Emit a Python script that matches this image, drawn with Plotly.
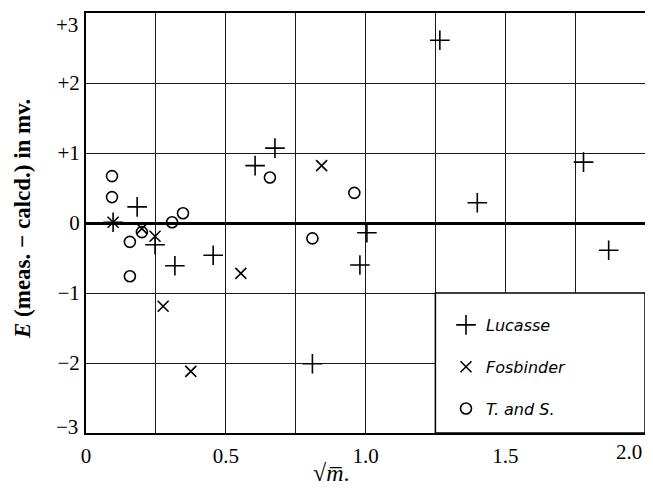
import plotly.graph_objects as go

# ---- data ----
lucasse_x = [0.097, 0.183, 0.247, 0.318, 0.455, 0.605, 0.676, 0.81, 0.98, 1.005, 1.266, 1.40, 1.78, 1.87]
lucasse_y = [0.01, 0.23, -0.31, -0.61, -0.46, 0.82, 1.07, -2.01, -0.60, -0.14, 2.61, 0.29, 0.87, -0.39]

fos_x = [0.097, 0.20, 0.247, 0.276, 0.375, 0.554, 0.843]
fos_y = [0.01, -0.08, -0.19, -1.19, -2.12, -0.72, 0.82]

ts_x = [0.093, 0.093, 0.157, 0.157, 0.20, 0.308, 0.347, 0.658, 0.81, 0.96]
ts_y = [0.67, 0.37, -0.27, -0.76, -0.13, 0.01, 0.14, 0.65, -0.22, 0.43]

x_tickvals = [0, 0.25, 0.5, 0.75, 1.0, 1.25, 1.5, 1.75, 2.0]
x_ticktext = ["0", "", "0.5", "", "1.0", "", "1.5", "", "2.0"]
y_tickvals = [-3, -2, -1, 0, 1, 2, 3]
y_ticktext = ["\u22123", "\u22122", "\u22121", "0", "+1", "+2", "+3"]

legend_names = ["Lucasse", "Fosbinder", "T. and S."]

# page body has an 8px margin: figure is shrunk so the plot lands where the reference has it
W, H = 645, 481
L, T, R, B = 78, 5, 8, 56
PW, PH = W - L - R, H - T - B


def px_x(sx):  # screen x -> paper x
    return (sx - 8 - L) / PW


def px_y(sy):  # screen y -> paper y
    return (H - B - (sy - 8)) / PH


fig = go.Figure()

fig.add_trace(go.Scatter(
    x=lucasse_x, y=lucasse_y, mode="markers", name=legend_names[0], legendgroup="a",
    marker=dict(symbol="cross-thin", size=14, color="black", line=dict(color="black", width=1.6)),
))
fig.add_trace(go.Scatter(
    x=fos_x, y=fos_y, mode="markers", name=legend_names[1], legendgroup="b",
    marker=dict(symbol="x-thin", size=11, color="black", line=dict(color="black", width=1.6)),
))
fig.add_trace(go.Scatter(
    x=ts_x, y=ts_y, mode="markers", name=legend_names[2], legendgroup="c",
    marker=dict(symbol="circle-open", size=11, color="black", line=dict(color="black", width=1.6)),
))

# white legend box that interrupts the grid
fig.add_shape(type="rect", xref="x", yref="y", x0=1.25, x1=2.0, y0=-3, y1=-1,
              fillcolor="white", line=dict(color="black", width=1.5), layer="between")

tick_font = dict(family="Liberation Serif", size=21, color="black")
axis_common = dict(
    showline=True, mirror=True, linewidth=2, linecolor="black",
    showgrid=True, gridcolor="#1a1a1a", gridwidth=1.1,
    ticks="", tickfont=tick_font, automargin=False, ticklabeloverflow="allow",
)

# end labels that the reference pulls inside the frame are drawn as annotations
x_axis_text = [t if v != 2.0 else "" for v, t in zip(x_tickvals, x_ticktext)]
y_axis_text = [t if v not in (-3, 3) else "" for v, t in zip(y_tickvals, y_ticktext)]

fig.update_xaxes(range=[0, 2.0], tickvals=x_tickvals, ticktext=x_axis_text,
                 zeroline=False, ticklabelstandoff=3, **axis_common)
fig.update_yaxes(range=[-3, 3], tickvals=y_tickvals, ticktext=y_axis_text,
                 zeroline=True, zerolinecolor="black", zerolinewidth=2.6,
                 ticklabelstandoff=0, **axis_common)

for v, t in zip(y_tickvals, y_ticktext):
    if v in (-3, 3):
        fig.add_annotation(xref="paper", yref="paper", x=px_x(80),
                           y=px_y(25 if v > 0 else 427),
                           xanchor="right", yanchor="middle", text=t, showarrow=False,
                           font=tick_font)
for v, t in zip(x_tickvals, x_ticktext):
    if v == 2.0:
        fig.add_annotation(xref="paper", yref="paper", x=px_x(644), y=px_y(452),
                           xanchor="right", yanchor="middle", text=t, showarrow=False,
                           font=tick_font)

fig.add_annotation(xref="paper", yref="paper", x=px_x(331), y=px_y(488),
                   xanchor="center", yanchor="bottom",
                   text="<b>\u221a</b><i>m\u0305</i>.", showarrow=False,
                   font=dict(family="Liberation Serif", size=24, color="black"))
fig.add_annotation(xref="paper", yref="paper", x=px_x(22), y=px_y(219),
                   xanchor="center", yanchor="middle",
                   text="<b><i>E</i> (meas. \u2212 calcd.) in mv.</b>", textangle=-90,
                   showarrow=False,
                   font=dict(family="Liberation Serif", size=23, color="black"))

fig.update_layout(
    width=W, height=H,
    margin=dict(l=L, r=R, t=T, b=B, autoexpand=False),
    paper_bgcolor="white", plot_bgcolor="white",
    showlegend=True,
    legend=dict(x=px_x(446), y=px_y(308), xanchor="left", yanchor="top",
                bgcolor="rgba(0,0,0,0)", tracegroupgap=18,
                font=dict(family="DejaVu Sans", size=16, color="black", style="italic")),
)

fig.write_html("out.html")
